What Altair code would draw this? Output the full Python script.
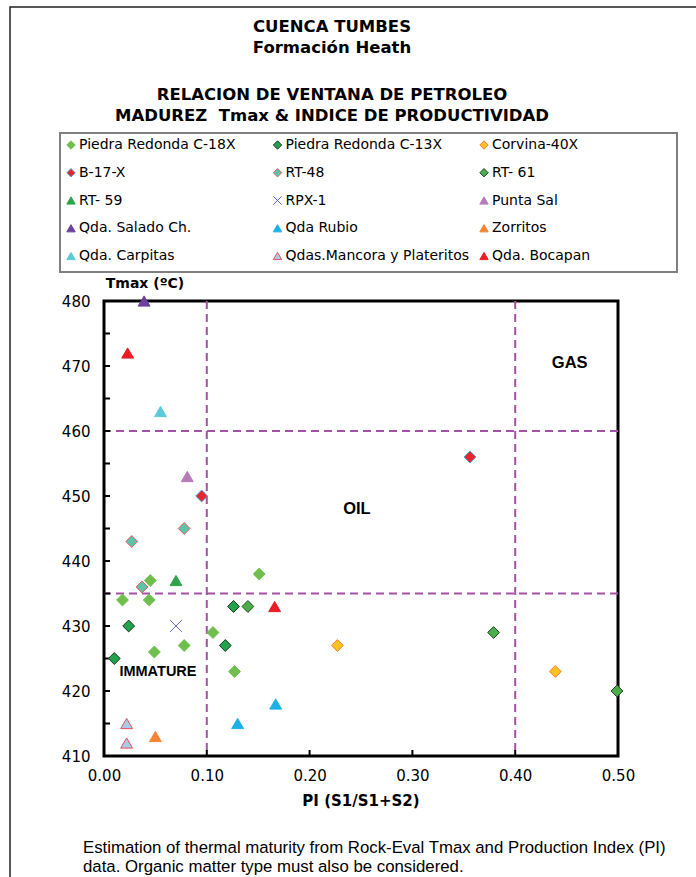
import altair as alt
import pandas as pd

# ---- PI (S1/S1+S2) and Tmax (ºC) for each well / outcrop ----
pr18x_pi = [0.045, 0.018, 0.044, 0.151, 0.106, 0.049, 0.078, 0.127]
pr18x_tmax = [437, 434, 434, 438, 429, 426, 427, 423]
pr13x_pi = [0.024, 0.126, 0.118, 0.010]
pr13x_tmax = [430, 433, 427, 425]
corvina_pi = [0.227, 0.439]
corvina_tmax = [427, 423]
b17x_pi = [0.095, 0.356]
b17x_tmax = [450, 456]
rt48_pi = [0.027, 0.078, 0.037]
rt48_tmax = [443, 445, 436]
rt61_pi = [0.140, 0.379, 0.499]
rt61_tmax = [433, 429, 420]
rt59_pi = [0.070]
rt59_tmax = [437]
rpx1_pi = [0.070]
rpx1_tmax = [430]
puntasal_pi = [0.081]
puntasal_tmax = [453]
salado_pi = [0.039]
salado_tmax = [480]
rubio_pi = [0.130, 0.167]
rubio_tmax = [415, 418]
zorritos_pi = [0.050]
zorritos_tmax = [413]
carpitas_pi = [0.055]
carpitas_tmax = [463]
mancora_pi = [0.022, 0.022]
mancora_tmax = [415, 412]
bocapan_pi = [0.023, 0.166]
bocapan_tmax = [472, 433]

series_names = [
    "Piedra Redonda C-18X", "Piedra Redonda C-13X", "Corvina-40X",
    "B-17-X", "RT-48", "RT- 61",
    "RT- 59", "RPX-1", "Punta Sal",
    "Qda. Salado Ch.", "Qda Rubio", "Zorritos",
    "Qda. Carpitas", "Qdas.Mancora y Plateritos", "Qda. Bocapan",
]
series_values = [
    (pr18x_pi, pr18x_tmax), (pr13x_pi, pr13x_tmax), (corvina_pi, corvina_tmax),
    (b17x_pi, b17x_tmax), (rt48_pi, rt48_tmax), (rt61_pi, rt61_tmax),
    (rt59_pi, rt59_tmax), (rpx1_pi, rpx1_tmax), (puntasal_pi, puntasal_tmax),
    (salado_pi, salado_tmax), (rubio_pi, rubio_tmax), (zorritos_pi, zorritos_tmax),
    (carpitas_pi, carpitas_tmax), (mancora_pi, mancora_tmax), (bocapan_pi, bocapan_tmax),
]

# marker styles per series
X_PATH = "M-1,-1L1,1M-1,1L1,-1"
series_shapes = [
    "diamond", "diamond", "diamond",
    "diamond", "diamond", "diamond",
    "triangle-up", X_PATH, "triangle-up",
    "triangle-up", "triangle-up", "triangle-up",
    "triangle-up", "triangle-up", "triangle-up",
]
series_sizes = [
    140, 140, 140,
    140, 140, 140,
    180, 90, 180,
    180, 180, 180,
    180, 180, 180,
]
series_fills = [
    "#70bf4e", "#23a14c", "#ffc022",
    "#e8262c", "#5cc4a8", "#4cae48",
    "#2ea44a", "#5a6cc8", "#b97ab9",
    "#6b3fa0", "#1cb0e6", "#f58432",
    "#5ccad8", "#a8cce8", "#ec1c24",
]
series_strokes = [
    "#70bf4e", "#1b3a20", "#f7803a",
    "#4aa0dc", "#f05a5a", "#24482a",
    "#2ea44a", "#5a6cc8", "#b97ab9",
    "#6b3fa0", "#1cb0e6", "#f58432",
    "#5ccad8", "#e8505a", "#ec1c24",
]

# maturity window limits
pi_limits = [0.1, 0.4]
tmax_limits = [460, 435]
tmax_ticks = list(range(410, 481, 5))
pi_ticks = [0.1, 0.2, 0.3, 0.4]

zone_labels = ["GAS", "OIL", "IMMATURE"]
zone_pi = [0.453, 0.246, 0.0525]
zone_tmax = [470.5, 448.0, 422.9]

rows = []
for name, (pis, tms) in zip(series_names, series_values):
    for p, t in zip(pis, tms):
        rows.append({"serie": name, "pi": p, "tmax": t})
points_df = pd.DataFrame(rows)

legend_df = pd.DataFrame({
    "serie": series_names,
    "col": [i % 3 for i in range(len(series_names))],
    "row": [i // 3 for i in range(len(series_names))],
})

W, H = 514, 455
PURPLE = "#a552a6"
xs = alt.Scale(domain=[0, 0.5], nice=False, zero=False)
ys = alt.Scale(domain=[410, 480], nice=False, zero=False)
shape_sc = alt.Scale(domain=series_names, range=series_shapes)
fill_sc = alt.Scale(domain=series_names, range=series_fills)
stroke_sc = alt.Scale(domain=series_names, range=series_strokes)
size_sc = alt.Scale(domain=series_names, range=series_sizes)

one = pd.DataFrame({"k": [0]})

x_axis = alt.Axis(values=[0, 0.1, 0.2, 0.3, 0.4, 0.5], format=".2f", ticks=False,
                  domain=False, grid=False, labelFont="DejaVu Sans", labelFontSize=15,
                  labelColor="black", labelPadding=12, labelFlush=False, title=None)
y_axis = alt.Axis(values=list(range(410, 481, 10)), ticks=False, domain=False, grid=False,
                  labelFont="DejaVu Sans", labelFontSize=15, labelColor="black",
                  labelPadding=14, labelFlush=False, title=None)

hl = alt.Chart(pd.DataFrame({"t": tmax_limits})).mark_rule(
    color=PURPLE, strokeWidth=2, strokeDash=[8, 5]
).encode(y=alt.Y("t:Q", scale=ys, axis=y_axis))

vl = alt.Chart(pd.DataFrame({"p": pi_limits})).mark_rule(
    color=PURPLE, strokeWidth=2, strokeDash=[8, 5]
).encode(x=alt.X("p:Q", scale=xs, axis=x_axis))

ytk = alt.Chart(pd.DataFrame({"t": tmax_ticks})).mark_rule(
    color="black", strokeWidth=2
).encode(y=alt.Y("t:Q", scale=ys), x=alt.value(0), x2=alt.value(6))

xtk = alt.Chart(pd.DataFrame({"p": pi_ticks})).mark_rule(
    color="black", strokeWidth=2
).encode(x=alt.X("p:Q", scale=xs), y=alt.value(H), y2=alt.value(H - 6))

pts = alt.Chart(points_df).mark_point(filled=True, opacity=1, strokeWidth=1).encode(
    x=alt.X("pi:Q", scale=xs),
    y=alt.Y("tmax:Q", scale=ys),
    shape=alt.Shape("serie:N", scale=shape_sc, legend=None),
    fill=alt.Fill("serie:N", scale=fill_sc, legend=None),
    stroke=alt.Stroke("serie:N", scale=stroke_sc, legend=None),
    size=alt.Size("serie:N", scale=size_sc, legend=None),
)

zones = alt.Chart(pd.DataFrame({"label": zone_labels, "pi": zone_pi, "tmax": zone_tmax})).mark_text(
    font="Liberation Sans", fontWeight="bold", color="black", baseline="middle"
).encode(
    x=alt.X("pi:Q", scale=xs), y=alt.Y("tmax:Q", scale=ys), text="label:N",
    size=alt.condition("datum.label == 'IMMATURE'", alt.value(14.5), alt.value(16.5)),
)


def label(txt, x, y, size, bold=True, font="DejaVu Sans", align="center"):
    return alt.Chart(one).mark_text(
        font=font, fontSize=size, fontWeight="bold" if bold else "normal",
        color="black", align=align, baseline="middle"
    ).encode(x=alt.value(x), y=alt.value(y), text=alt.value(txt))


titles = [
    label("CUENCA TUMBES", 228, -274, 16.5),
    label("Formación Heath", 228, -253, 16.5),
    label("RELACION DE VENTANA DE PETROLEO", 228, -206, 16.5),
    label("MADUREZ\u00a0 Tmax & INDICE DE PRODUCTIVIDAD", 228, -185, 16.5),
    label("Tmax (ºC)", 41, -17, 14),
    label("PI (S1/S1+S2)", 257, 500, 15),
    label("Estimation of thermal maturity from Rock-Eval Tmax and Production Index (PI)",
          -21, 547, 16.8, bold=False, font="Liberation Sans", align="left"),
    label("data. Organic matter type must also be considered.",
          -21, 566, 16.8, bold=False, font="Liberation Sans", align="left"),
]

legend_box = alt.Chart(one).mark_rect(fill=None, stroke="#808080", strokeWidth=2).encode(
    x=alt.value(-44), x2=alt.value(573), y=alt.value(-168), y2=alt.value(-29)
)
outer_box = alt.Chart(one).mark_rect(fill=None, stroke="#222222", strokeWidth=1.5).encode(
    x=alt.value(-94), x2=alt.value(620), y=alt.value(-294), y2=alt.value(600)
)

main = alt.layer(outer_box, legend_box, hl, vl, ytk, xtk, pts, zones, *titles)

lx = alt.X("col:Q", scale=alt.Scale(domain=[0, 2], range=[-33, 380]), axis=None)
ly = alt.Y("row:Q", scale=alt.Scale(domain=[0, 4], range=[-156, -45]), axis=None)

leg_pts = alt.Chart(legend_df).mark_point(filled=True, opacity=1, strokeWidth=1).encode(
    x=lx, y=ly,
    shape=alt.Shape("serie:N", scale=shape_sc, legend=None),
    fill=alt.Fill("serie:N", scale=fill_sc, legend=None),
    stroke=alt.Stroke("serie:N", scale=stroke_sc, legend=None),
    size=alt.value(70),
)
leg_txt = alt.Chart(legend_df).mark_text(
    font="DejaVu Sans", fontSize=14, color="black", align="left", baseline="middle", dx=8
).encode(x=lx, y=ly, text="serie:N")

legend = alt.layer(leg_pts, leg_txt)

chart = alt.layer(main, legend).resolve_scale(x="independent", y="independent").properties(
    width=W, height=H,
    autosize=alt.AutoSizeParams(type="none"),
    padding={"left": 104, "top": 301, "right": 78, "bottom": 121},
    background="white",
).configure_view(stroke="black", strokeWidth=3)

chart.save("out.html", embed_options={"renderer": "svg", "actions": False})
